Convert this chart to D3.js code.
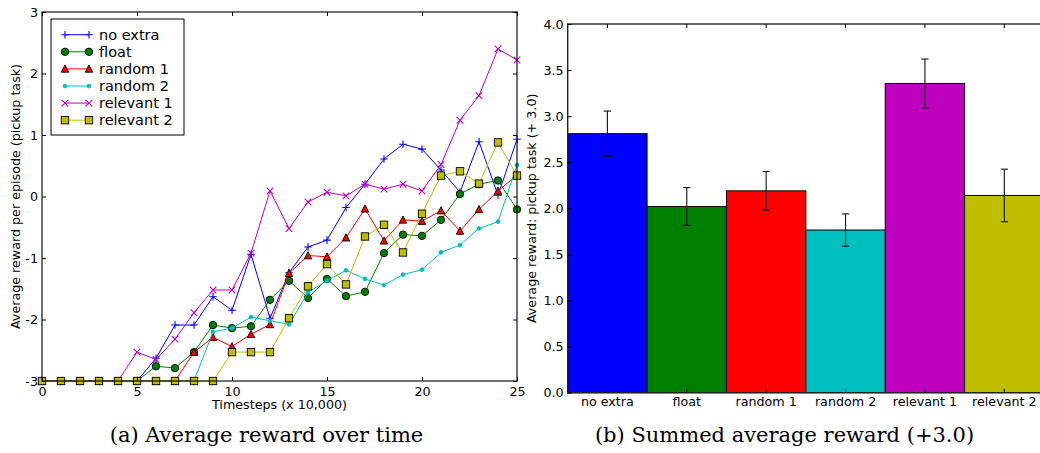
<!DOCTYPE html>
<html lang="en">
<head>
<meta charset="UTF-8">
<title>Pickup task reward</title>
<script src="https://cdn.jsdelivr.net/npm/d3@7/dist/d3.min.js"></script>
<style>
  body { margin: 0; background: #fff; }
  text { font-family: "DejaVu Sans", sans-serif; fill: #000; }
  .caption { font-family: "DejaVu Serif", serif; font-size: 21px; }
</style>
</head>
<body>
<script>

// ---- data ----
const timesteps = [0,1,2,3,4,5,6,7,8,9,10,11,12,13,14,15,16,17,18,19,20,21,22,23,24,25];
const seriesNames = ["no extra", "float", "random 1", "random 2", "relevant 1", "relevant 2"];
const noExtra   = [-3,-3,-3,-3,-3,-3,-2.63,-2.09,-2.09,-1.63,-1.85,-0.94,-1.98,-1.24,-0.82,-0.71,-0.18,0.20,0.61,0.85,0.77,0.43,0.07,0.89,0.02,0.93];
const float     = [-3,-3,-3,-3,-3,-3,-2.76,-2.79,-2.53,-2.09,-2.14,-2.11,-1.68,-1.37,-1.65,-1.34,-1.62,-1.55,-0.92,-0.62,-0.64,-0.38,0.04,0.20,0.26,-0.21];
const random1   = [-3,-3,-3,-3,-3,-3,-3,-3,-2.53,-2.29,-2.44,-2.24,-2.08,-1.25,-0.96,-0.98,-0.67,-0.20,-0.72,-0.38,-0.40,-0.23,-0.56,-0.21,0.09,0.35];
const random2   = [-3,-3,-3,-3,-3,-3,-3,-3,-3,-2.20,-2.14,-1.96,-2.02,-2.08,-1.56,-1.37,-1.20,-1.34,-1.44,-1.27,-1.19,-0.91,-0.79,-0.52,-0.41,0.51];
const relevant1 = [-3,-3,-3,-3,-3,-2.53,-2.65,-2.32,-1.89,-1.52,-1.52,-0.92,0.09,-0.52,-0.09,0.07,0.01,0.20,0.12,0.20,0.09,0.52,1.24,1.64,2.40,2.22];
const relevant2 = [-3,-3,-3,-3,-3,-3,-3,-3,-3,-3,-2.53,-2.53,-2.53,-1.98,-1.46,-1.10,-1.43,-0.65,-0.46,-0.91,-0.28,0.34,0.41,0.21,0.88,0.34];

const barNames  = ["no extra", "float", "random 1", "random 2", "relevant 1", "relevant 2"];
const barValues = [2.81, 2.02, 2.19, 1.765, 3.355, 2.14];
const barErrors = [0.245, 0.205, 0.21, 0.175, 0.265, 0.285];

const timeTicks   = [0, 5, 10, 15, 20, 25];
const rewardTicks = [-3, -2, -1, 0, 1, 2, 3];
const summedTicks = [0, 0.5, 1, 1.5, 2, 2.5, 3, 3.5, 4];

// matplotlib classic colour letters b g r c m y
const colors  = ["#0000ff", "#008000", "#ff0000", "#00bfbf", "#bf00bf", "#bfbf00"];
const markers = ["plus", "circle", "triangle", "dot", "cross", "square"];
const seriesValues = [noExtra, float, random1, random2, relevant1, relevant2];

const W = 1040, H = 453;
const svg = d3.select("body").append("svg").attr("width", W).attr("height", H);

function drawMarker(g, type, color) {
    if (type === "plus") {
        g.append("path").attr("d", "M-3.8,0H3.8M0,-3.8V3.8").attr("stroke", color).attr("stroke-width", 1.1).attr("fill", "none");
    } else if (type === "cross") {
        g.append("path").attr("d", "M-3.3,-3.3L3.3,3.3M-3.3,3.3L3.3,-3.3").attr("stroke", color).attr("stroke-width", 1.1).attr("fill", "none");
    } else if (type === "circle") {
        g.append("circle").attr("r", 3.7).attr("fill", color).attr("stroke", "#000").attr("stroke-width", 0.9);
    } else if (type === "dot") {
        g.append("circle").attr("r", 2.1).attr("fill", color).attr("stroke", color).attr("stroke-width", 0.5);
    } else if (type === "triangle") {
        g.append("path").attr("d", "M0,-3.9L3.7,3.3L-3.7,3.3Z").attr("fill", color).attr("stroke", "#000").attr("stroke-width", 0.9);
    } else if (type === "square") {
        g.append("rect").attr("x", -3.7).attr("y", -3.7).attr("width", 7.4).attr("height", 7.4)
            .attr("fill", color).attr("stroke", "#000").attr("stroke-width", 0.9);
    }
}

// ================= (a) line chart =================
const x = d3.scaleLinear().domain([0, 25]).range([42, 517]);
const y = d3.scaleLinear().domain([-3, 3]).range([381, 12]);

const left = svg.append("g");

const line = d3.line().x((d, i) => x(timesteps[i])).y(d => y(d));

seriesValues.forEach((vals, k) => {
    const g = left.append("g");
    g.append("path").datum(vals).attr("d", line)
        .attr("fill", "none").attr("stroke", colors[k]).attr("stroke-width", 1);
    vals.forEach((v, i) => {
        const m = g.append("g").attr("transform", `translate(${x(timesteps[i])},${y(v)})`);
        drawMarker(m, markers[k], colors[k]);
    });
});

// frame + inward ticks
left.append("rect").attr("x", x(0)).attr("y", y(3)).attr("width", x(25) - x(0)).attr("height", y(-3) - y(3))
    .attr("fill", "none").attr("stroke", "#111").attr("stroke-width", 1.2);

const axisFont = g => g.selectAll("text").style("font-size", "12.7px").style("font-family", "DejaVu Sans");

left.append("g").attr("transform", `translate(0,${y(-3)})`)
    .call(d3.axisBottom(x).tickValues(timeTicks).tickSizeInner(-4).tickSizeOuter(0).tickPadding(6))
    .call(g => g.select(".domain").remove())
    .call(axisFont);
left.append("g").attr("transform", `translate(0,${y(3)})`)
    .call(d3.axisTop(x).tickValues(timeTicks).tickSizeInner(-4).tickSizeOuter(0).tickFormat(""))
    .call(g => g.select(".domain").remove());
left.append("g").attr("transform", `translate(${x(0)},0)`)
    .call(d3.axisLeft(y).tickValues(rewardTicks).tickSizeInner(-4).tickSizeOuter(0).tickPadding(4).tickFormat(d => String(d)))
    .call(g => g.select(".domain").remove())
    .call(axisFont);
left.append("g").attr("transform", `translate(${x(25)},0)`)
    .call(d3.axisRight(y).tickValues(rewardTicks).tickSizeInner(-4).tickSizeOuter(0).tickFormat(""))
    .call(g => g.select(".domain").remove());

left.append("text").attr("x", (x(0) + x(25)) / 2).attr("y", 409)
    .attr("text-anchor", "middle").style("font-size", "12.7px").text("Timesteps (x 10,000)");
left.append("text").attr("transform", `translate(19.5,${(y(3) + y(-3)) / 2}) rotate(-90)`)
    .attr("text-anchor", "middle").style("font-size", "12.7px").text("Average reward per episode (pickup task)");

// legend
const legend = left.append("g");
legend.append("rect").attr("x", 51).attr("y", 19).attr("width", 133).attr("height", 116)
    .attr("fill", "#fff").attr("stroke", "#000").attr("stroke-width", 1);
seriesNames.forEach((name, k) => {
    const cy = 34.7 + k * 17.1;
    legend.append("line").attr("x1", 65).attr("x2", 89).attr("y1", cy).attr("y2", cy)
        .attr("stroke", colors[k]).attr("stroke-width", 1);
    [65, 89].forEach(px => drawMarker(legend.append("g").attr("transform", `translate(${px},${cy})`), markers[k], colors[k]));
    legend.append("text").attr("x", 99).attr("y", cy + 5.2).style("font-size", "14.5px").text(name);
});

left.append("text").attr("class", "caption").attr("x", 266.5).attr("y", 442)
    .attr("text-anchor", "middle").text("(a) Average reward over time");

// ================= (b) bar chart =================
const xb = d3.scaleBand().domain(barNames).range([567.7, 1044]).padding(0);
const yb = d3.scaleLinear().domain([0, 4]).range([392.7, 24]);

const right = svg.append("g");

right.selectAll("rect.bar").data(barNames).join("rect").attr("class", "bar")
    .attr("x", d => xb(d)).attr("width", xb.bandwidth())
    .attr("y", (d, i) => yb(barValues[i])).attr("height", (d, i) => yb(0) - yb(barValues[i]))
    .attr("fill", (d, i) => colors[i]).attr("stroke", "#000").attr("stroke-width", 1);

const err = right.selectAll("g.err").data(barNames).join("g").attr("class", "err")
    .attr("transform", d => `translate(${xb(d) + xb.bandwidth() / 2},0)`);
err.append("line").attr("y1", (d, i) => yb(barValues[i] + barErrors[i])).attr("y2", (d, i) => yb(barValues[i] - barErrors[i]))
    .attr("stroke", "#111").attr("stroke-width", 1.1);
err.append("line").attr("x1", -3.6).attr("x2", 3.6)
    .attr("y1", (d, i) => yb(barValues[i] + barErrors[i])).attr("y2", (d, i) => yb(barValues[i] + barErrors[i]))
    .attr("stroke", "#111").attr("stroke-width", 1.1);
err.append("line").attr("x1", -3.6).attr("x2", 3.6)
    .attr("y1", (d, i) => yb(barValues[i] - barErrors[i])).attr("y2", (d, i) => yb(barValues[i] - barErrors[i]))
    .attr("stroke", "#111").attr("stroke-width", 1.1);

right.append("rect").attr("x", 567.7).attr("y", yb(4)).attr("width", 1044 - 567.7).attr("height", yb(0) - yb(4))
    .attr("fill", "none").attr("stroke", "#222").attr("stroke-width", 1.4);

right.append("g").attr("transform", `translate(0,${yb(0)})`)
    .call(d3.axisBottom(xb).tickSizeInner(-4).tickSizeOuter(0).tickPadding(4.5))
    .call(g => g.select(".domain").remove())
    .call(axisFont);
right.append("g").attr("transform", `translate(0,${yb(4)})`)
    .call(d3.axisTop(xb).tickSizeInner(-4).tickSizeOuter(0).tickFormat(""))
    .call(g => g.select(".domain").remove());
right.append("g").attr("transform", "translate(567.7,0)")
    .call(d3.axisLeft(yb).tickValues(summedTicks).tickSizeInner(-4).tickSizeOuter(0).tickPadding(4).tickFormat(d3.format(".1f")))
    .call(g => g.select(".domain").remove())
    .call(axisFont);

right.append("text").attr("transform", `translate(536,${(yb(0) + yb(4)) / 2}) rotate(-90)`)
    .attr("text-anchor", "middle").style("font-size", "12.7px").text("Average reward: pickup task (+ 3.0)");

right.append("text").attr("class", "caption").attr("x", 784.5).attr("y", 442)
    .attr("text-anchor", "middle").text("(b) Summed average reward (+3.0)");

</script>
</body>
</html>
